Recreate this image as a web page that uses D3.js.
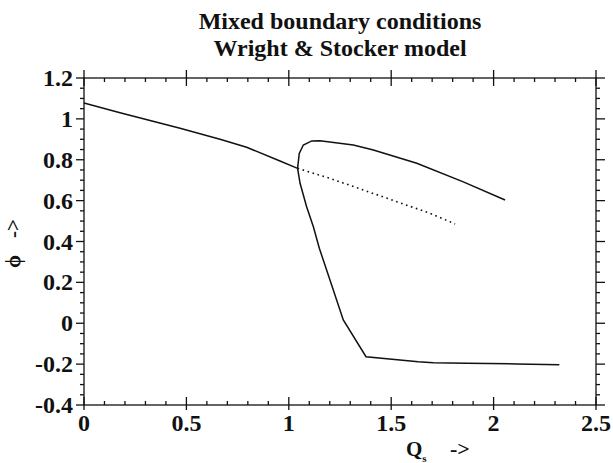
<!DOCTYPE html>
<html>
<head>
<meta charset="utf-8">
<script src="https://cdn.jsdelivr.net/npm/d3@7"></script>
<style>
  body { margin: 0; background: #fff; }
  svg text { font-family: "Liberation Serif", "Times New Roman", serif; fill: #111; font-weight: bold; }
</style>
</head>
<body>
<div id="chart"></div>
<script>
// Qs values and phi values
const mainQs   = [0, 0.176, 0.469, 0.664, 0.794, 0.957, 1.043];
const mainPhi  = [1.078, 1.03, 0.954, 0.90, 0.861, 0.794, 0.758];

const upperQs  = [1.043, 1.051, 1.071, 1.112, 1.152, 1.315, 1.413, 1.625, 1.852, 2.056];
const upperPhi = [0.758, 0.831, 0.872, 0.892, 0.893, 0.872, 0.848, 0.783, 0.692, 0.603];

const lowerQs  = [1.043, 1.055, 1.087, 1.12, 1.149, 1.201, 1.266, 1.377, 1.632, 1.706, 1.869, 2.113, 2.321];
const lowerPhi = [0.758, 0.685, 0.57, 0.472, 0.367, 0.212, 0.016, -0.164, -0.188, -0.193, -0.196, -0.199, -0.203];

const unstQs   = [1.043, 1.201, 1.364, 1.527, 1.689, 1.812];
const unstPhi  = [0.758, 0.709, 0.652, 0.595, 0.538, 0.486];

const xTicks = [0, 0.5, 1, 1.5, 2, 2.5];
const yTicks = [-0.4, -0.2, 0, 0.2, 0.4, 0.6, 0.8, 1, 1.2];
const titleLines = ["Mixed boundary conditions", "Wright & Stocker model"];

const width = 613, height = 463;
const margin = { top: 78, right: 17, bottom: 58, left: 84 };

const svg = d3.select("#chart").append("svg")
    .attr("width", width)
    .attr("height", height);

const x = d3.scaleLinear().domain([0, 2.5]).range([margin.left, width - margin.right]);
const y = d3.scaleLinear().domain([-0.4, 1.2]).range([height - margin.bottom, margin.top]);

const xMinor = d3.range(0, 2.5001, 0.1).filter(v => Math.abs(v * 2 - Math.round(v * 2)) > 1e-6);
const yMinor = d3.range(-0.4, 1.2001, 0.05).filter(v => Math.abs(v * 5 - Math.round(v * 5)) > 1e-6);
const fmt = v => String(+v.toFixed(1));   // plain hyphen for negatives

const x0 = x(0), x1 = x(2.5), yb = y(-0.4), yt = y(1.2);

// frame
const frame = svg.append("g").attr("stroke", "#111").attr("stroke-width", 1.3);
frame.append("rect")
    .attr("x", x0).attr("y", yt)
    .attr("width", x1 - x0).attr("height", yb - yt)
    .attr("fill", "none");

// x ticks: majors cross the axis, minors point in
frame.selectAll("line.xmaj-b").data(xTicks).join("line")
    .attr("x1", d => x(d)).attr("x2", d => x(d))
    .attr("y1", yb - 8).attr("y2", yb + 5);
frame.selectAll("line.xmaj-t").data(xTicks).join("line")
    .attr("x1", d => x(d)).attr("x2", d => x(d))
    .attr("y1", yt - 8).attr("y2", yt + 8);
frame.selectAll("line.xmin-b").data(xMinor).join("line")
    .attr("x1", d => x(d)).attr("x2", d => x(d))
    .attr("y1", yb - 4).attr("y2", yb);
frame.selectAll("line.xmin-t").data(xMinor).join("line")
    .attr("x1", d => x(d)).attr("x2", d => x(d))
    .attr("y1", yt).attr("y2", yt + 4);

// y ticks point out on both sides
frame.selectAll("line.ymaj-l").data(yTicks).join("line")
    .attr("x1", x0 - 8).attr("x2", x0)
    .attr("y1", d => y(d)).attr("y2", d => y(d));
frame.selectAll("line.ymaj-r").data(yTicks).join("line")
    .attr("x1", x1).attr("x2", x1 + 9)
    .attr("y1", d => y(d)).attr("y2", d => y(d));
frame.selectAll("line.ymin-l").data(yMinor).join("line")
    .attr("x1", x0 - 4).attr("x2", x0)
    .attr("y1", d => y(d)).attr("y2", d => y(d));
frame.selectAll("line.ymin-r").data(yMinor).join("line")
    .attr("x1", x1).attr("x2", x1 + 4)
    .attr("y1", d => y(d)).attr("y2", d => y(d));

// tick labels
svg.append("g").selectAll("text").data(xTicks).join("text")
    .attr("x", d => x(d)).attr("y", yb + 26)
    .attr("text-anchor", "middle")
    .style("font-size", "24px")
    .text(fmt);

svg.append("g").selectAll("text").data(yTicks).join("text")
    .attr("x", x0 - 11).attr("y", d => y(d) + 8)
    .attr("text-anchor", "end")
    .style("font-size", "24px")
    .text(fmt);

// title
svg.append("g").selectAll("text").data(titleLines).join("text")
    .attr("x", (x0 + x1) / 2).attr("y", (d, i) => 29 + i * 27)
    .attr("text-anchor", "middle")
    .style("font-size", "24px")
    .text(d => d);

// axis labels
const xl = svg.append("text")
    .attr("x", 406).attr("y", 456)
    .style("font-size", "21px");
xl.append("tspan").text("Q");
xl.append("tspan").attr("dy", 6).style("font-size", "11px").text("s");
xl.append("tspan").attr("x", 450).attr("dy", -6).style("font-size", "22px").text("->");

const yl = svg.append("text")
    .attr("transform", "translate(20,268) rotate(-90)")
    .style("font-size", "21px");
yl.append("tspan").text("\u03D5");
yl.append("tspan").attr("dx", 17).text("->");

// curves
const line = d3.line().x(d => x(d[0])).y(d => y(d[1]));
const curves = [
  { qs: mainQs,  phi: mainPhi,  dash: null },
  { qs: upperQs, phi: upperPhi, dash: null },
  { qs: lowerQs, phi: lowerPhi, dash: null },
  { qs: unstQs,  phi: unstPhi,  dash: "1.6,3.6" }
];
svg.append("g").selectAll("path").data(curves).join("path")
    .attr("d", c => line(c.qs.map((q, i) => [q, c.phi[i]])))
    .attr("fill", "none")
    .attr("stroke", "#111")
    .attr("stroke-width", d => d.dash ? 1.6 : 1.5)
    .attr("stroke-dasharray", d => d.dash);
</script>
</body>
</html>
